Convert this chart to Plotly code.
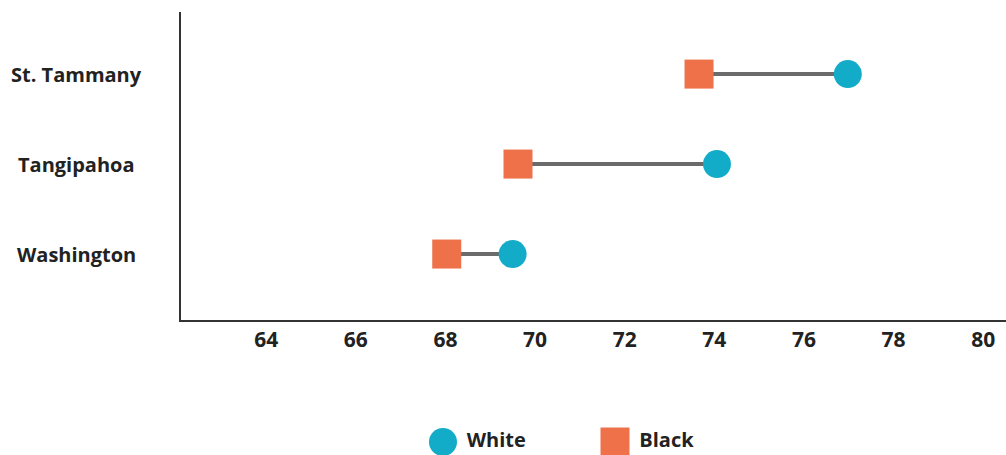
import plotly.graph_objects as go

counties = ["Washington", "Tangipahoa", "St. Tammany"]
white = [69.5, 74.06, 76.98]
black = [68.03, 69.62, 73.66]
legend_names = ["White", "Black"]
x_ticks = [64, 66, 68, 70, 72, 74, 76, 78, 80]

BLUE = "#12acc9"
ORANGE = "#ee7149"
LINE = "#6b6b6b"
TEXT = "#222222"
FONT = "Open Sans"

W, H = 1006, 455
fig = go.Figure()
ypos = list(range(len(counties)))

# connecting lines
for i in ypos:
    fig.add_trace(go.Scatter(x=[black[i], white[i]], y=[i, i], mode="lines",
                             line=dict(color=LINE, width=4), showlegend=False,
                             hoverinfo="skip"))
fig.add_trace(go.Scatter(x=white, y=ypos, mode="markers", name="White",
                         marker=dict(symbol="circle", size=28, color=BLUE),
                         showlegend=False))
fig.add_trace(go.Scatter(x=black, y=ypos, mode="markers", name="Black",
                         marker=dict(symbol="square", size=29, color=ORANGE),
                         showlegend=False))

# custom legend on its own hidden axes
fig.add_trace(go.Scatter(x=[0], y=[0], mode="markers+text", text=[" " + legend_names[0]],
                         textposition="middle right", cliponaxis=False,
                         marker=dict(symbol="circle", size=28, color=BLUE),
                         textfont=dict(family=FONT, size=20, color=TEXT, weight="bold"),
                         xaxis="x2", yaxis="y2", showlegend=False, hoverinfo="skip"))
fig.add_trace(go.Scatter(x=[1], y=[0], mode="markers+text", text=[" " + legend_names[1]],
                         textposition="middle right", cliponaxis=False,
                         marker=dict(symbol="square", size=29, color=ORANGE),
                         textfont=dict(family=FONT, size=20, color=TEXT, weight="bold"),
                         xaxis="x2", yaxis="y2", showlegend=False, hoverinfo="skip"))

L, T = 181, 12
plot_h = H - T
main_bottom = (H - 320) / plot_h

for i, c in enumerate(counties):
    fig.add_annotation(text=f"<b>{c}</b>", x=(76 - L) / (W - L), xref="paper",
                       xanchor="center", y=i, yref="y", showarrow=False,
                       font=dict(family=FONT, size=20, color=TEXT))

fig.update_layout(
    width=W, height=H,
    margin=dict(l=L, r=0, t=T, b=0),
    plot_bgcolor="white", paper_bgcolor="white",
    xaxis=dict(range=[62.10, 80.51], tickvals=x_ticks, showgrid=False, zeroline=False,
               showline=True, linecolor="#333333", linewidth=2, ticks="",
               tickfont=dict(family=FONT, size=21, color=TEXT, weight="bold"),
               anchor="y"),
    yaxis=dict(domain=[main_bottom, 1], range=[-0.733, 2.69], tickvals=ypos,
               showticklabels=False, showgrid=False, zeroline=False,
               showline=True, linecolor="#333333", linewidth=2, ticks=""),
    xaxis2=dict(domain=[0, 1], range=[-1.523, 3.273], visible=False, anchor="y2"),
    yaxis2=dict(domain=[0, 26 / plot_h], range=[-1, 1], visible=False, anchor="x2"),
    showlegend=False,
)

fig.write_html("out.html", config={"displayModeBar": False},
               post_script="document.body.style.margin='0';document.body.style.overflow='hidden';")
